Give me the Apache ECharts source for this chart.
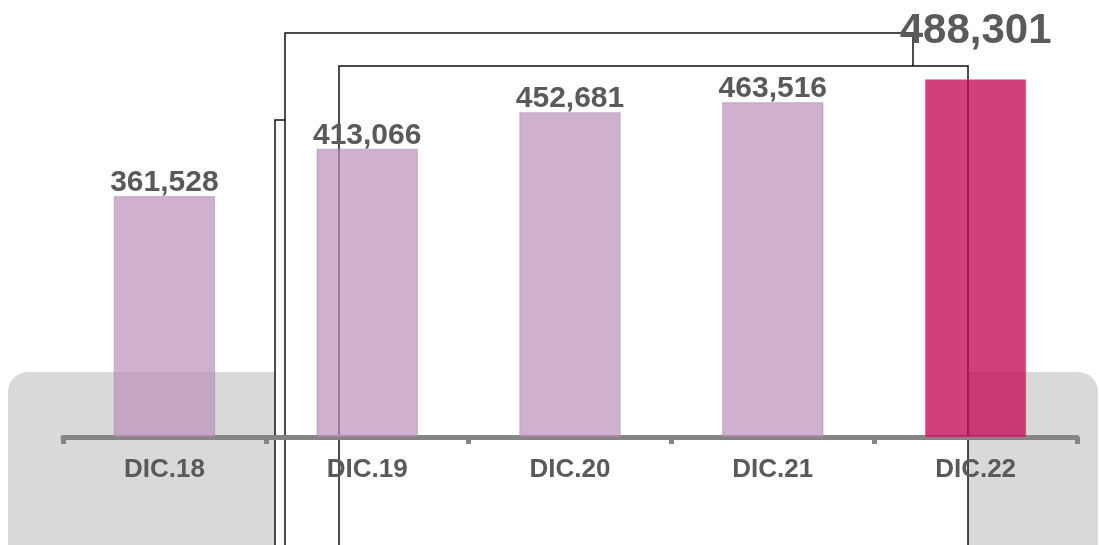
<!DOCTYPE html>
<html>
<head>
<meta charset="utf-8">
<script src="https://cdn.jsdelivr.net/npm/echarts@6/dist/echarts.min.js"></script>
<style>
  html, body { margin: 0; padding: 0; background: #ffffff; }
  #chart { width: 1099px; height: 545px; }
</style>
</head>
<body>
<div id="chart"></div>
<script>
// Year-end totals (December of each year)
const categories = ['DIC.18', 'DIC.19', 'DIC.20', 'DIC.21', 'DIC.22'];
const values = [361528, 413066, 452681, 463516, 488301];
const highlightIndex = 4;

const baseColor = 'rgba(187,144,187,0.71)';
const highlightColor = 'rgba(196,10,84,0.78)';
const labelColor = '#5a5a5a';

const fmt = v => v.toLocaleString('en-US');

const chart = echarts.init(document.getElementById('chart'), null, { renderer: 'canvas' });

const seriesData = values.map((v, i) => {
  const hi = i === highlightIndex;
  return {
    value: v,
    itemStyle: {
      color: hi ? highlightColor : baseColor,
      borderColor: hi ? 'rgba(230,80,140,0.6)' : 'rgba(150,130,150,0.45)',
      borderWidth: 1
    },
    label: hi ? { fontSize: 42, distance: 27 } : { fontSize: 30, distance: -2 }
  };
});

// Outlined white panels sitting behind the bars
const line = { stroke: '#111', lineWidth: 1.5 };
chart.setOption({
  animation: false,
  backgroundColor: '#ffffff',
  graphic: [
    {
      type: 'rect', z: 1,
      shape: { x: 8, y: 372, width: 1090, height: 200, r: 20 },
      style: { fill: '#d9d9d9' }
    },
    {
      type: 'rect', z: 2,
      shape: { x: 275, y: 120, width: 400, height: 460 },
      style: Object.assign({ fill: '#ffffff' }, line)
    },
    {
      type: 'rect', z: 3,
      shape: { x: 285, y: 33, width: 628, height: 540 },
      style: Object.assign({ fill: '#ffffff' }, line)
    },
    {
      type: 'rect', z: 4,
      shape: { x: 339, y: 66, width: 629, height: 520 },
      style: Object.assign({ fill: '#ffffff' }, line)
    }
  ],
  grid: { left: 63, right: 22, top: 22.5, bottom: 108, containLabel: false },
  xAxis: {
    type: 'category',
    data: categories,
    z: 10,
    boundaryGap: true,
    axisLine: { show: true, lineStyle: { color: '#858585', width: 5 } },
    axisTick: { show: true, length: 7, lineStyle: { color: '#858585', width: 5 } },
    axisLabel: {
      color: labelColor,
      fontFamily: 'Liberation Sans, Arial, sans-serif',
      fontWeight: 'bold',
      fontSize: 26,
      margin: 20
    }
  },
  yAxis: {
    type: 'value',
    min: 100000,
    max: 550000,
    show: false,
    splitLine: { show: false }
  },
  series: [{
    type: 'bar',
    z: 12,
    barWidth: '50%',
    data: seriesData,
    label: {
      show: true,
      position: 'top',
      color: labelColor,
      fontFamily: 'Liberation Sans, Arial, sans-serif',
      fontWeight: 'bold',
      formatter: p => fmt(p.value)
    }
  }]
});
</script>
</body>
</html>
